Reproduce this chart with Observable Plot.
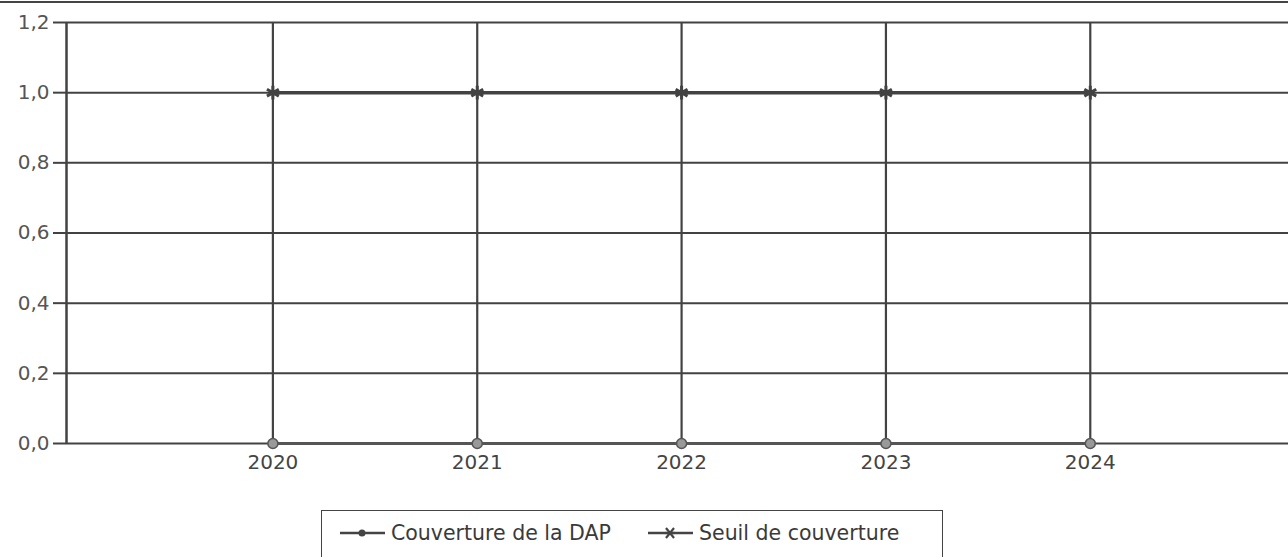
<!DOCTYPE html>
<html><head><meta charset="utf-8">
<script src="https://cdn.jsdelivr.net/npm/d3@7"></script>
<script src="https://cdn.jsdelivr.net/npm/@observablehq/plot@0.6"></script>
<style>
body{margin:0;background:#fff;font-family:"DejaVu Sans",Verdana,sans-serif;}
#wrap{position:relative;width:1288px;height:557px;overflow:hidden;}
#topline{position:absolute;left:0;top:1px;width:1288px;height:0;border-top:2px solid #444;}
#chart{position:absolute;left:0;top:0;}
#legend{position:absolute;left:321px;top:510px;width:622px;height:60px;border:1.5px solid #444;box-sizing:border-box;font-size:20.5px;color:#3a3a3a;}
.item{position:absolute;top:10px;display:flex;align-items:center;white-space:nowrap;}
.item svg{margin-right:6px;}
</style></head>
<body><div id="wrap"><div id="topline"></div><div id="chart"></div><div id="legend"></div></div>
<script>
const years = [2020, 2021, 2022, 2023, 2024];
const couverture = [0, 0, 0, 0, 0];
const seuil = [1.0, 1.0, 1.0, 1.0, 1.0];
const yTicks = [0, 0.2, 0.4, 0.6, 0.8, 1.0, 1.2];
const seriesNames = ["Couverture de la DAP", "Seuil de couverture"];

const ink = "#424242";
const dataC = years.map((y, i) => ({year: y, value: couverture[i]}));
const dataS = years.map((y, i) => ({year: y, value: seuil[i]}));
const xDomain = [2018.99, 2024.97];
const fmtY = d => d.toFixed(1).replace(".", ",");

const chart = Plot.plot({
  width: 1288, height: 495,
  marginLeft: 66, marginRight: 0, marginTop: 22, marginBottom: 52,
  style: {fontFamily: "DejaVu Sans, Verdana, sans-serif", fontSize: "20px", color: "#444", background: "transparent"},
  x: {domain: xDomain, label: null},
  y: {domain: [0, 1.2], label: null},
  marks: [
    Plot.ruleY(yTicks, {stroke: ink, strokeWidth: 2}),
    Plot.ruleX(years, {stroke: ink, strokeWidth: 2.2}),
    Plot.ruleX([xDomain[0]], {stroke: ink, strokeWidth: 2.5}),
    Plot.line(dataS, {x: "year", y: "value", stroke: ink, strokeWidth: 3.5}),
    Plot.dot(dataS, {x: "year", y: "value", symbol: "asterisk", r: 6.5, stroke: ink, strokeWidth: 3}),
    Plot.line(dataC, {x: "year", y: "value", stroke: "#555", strokeWidth: 3}),
    Plot.dot(dataC, {x: "year", y: "value", symbol: "circle", r: 5, fill: "#999", stroke: "#555", strokeWidth: 1.5}),
    Plot.axisY({ticks: yTicks, tickFormat: fmtY, tickSize: 13, tickPadding: 4, stroke: ink, strokeWidth: 2, fill: "#555", fontSize: 20}),
    Plot.axisX({ticks: years, tickFormat: d => String(d), tickSize: 0, tickPadding: 11, fill: "#444", fontSize: 20})
  ]
});
document.getElementById("chart").appendChild(chart);

const legend = document.getElementById("legend");
const lefts = [18, 326];
seriesNames.forEach((name, i) => {
  const d = document.createElement("div");
  d.className = "item";
  d.style.left = lefts[i] + "px";
  const mk = i === 0
    ? '<circle cx="22" cy="7" r="3.5" fill="#444"/>'
    : '<g stroke="#444" stroke-width="2.2"><line x1="18" y1="2" x2="26" y2="12"/><line x1="26" y1="2" x2="18" y2="12"/><line x1="17" y1="7" x2="27" y2="7"/></g>';
  d.innerHTML = '<svg width="45" height="14"><line x1="0" y1="7" x2="45" y2="7" stroke="#444" stroke-width="2.5"/>' + mk + '</svg><span>' + name + '</span>';
  legend.appendChild(d);
});
</script></body></html>
